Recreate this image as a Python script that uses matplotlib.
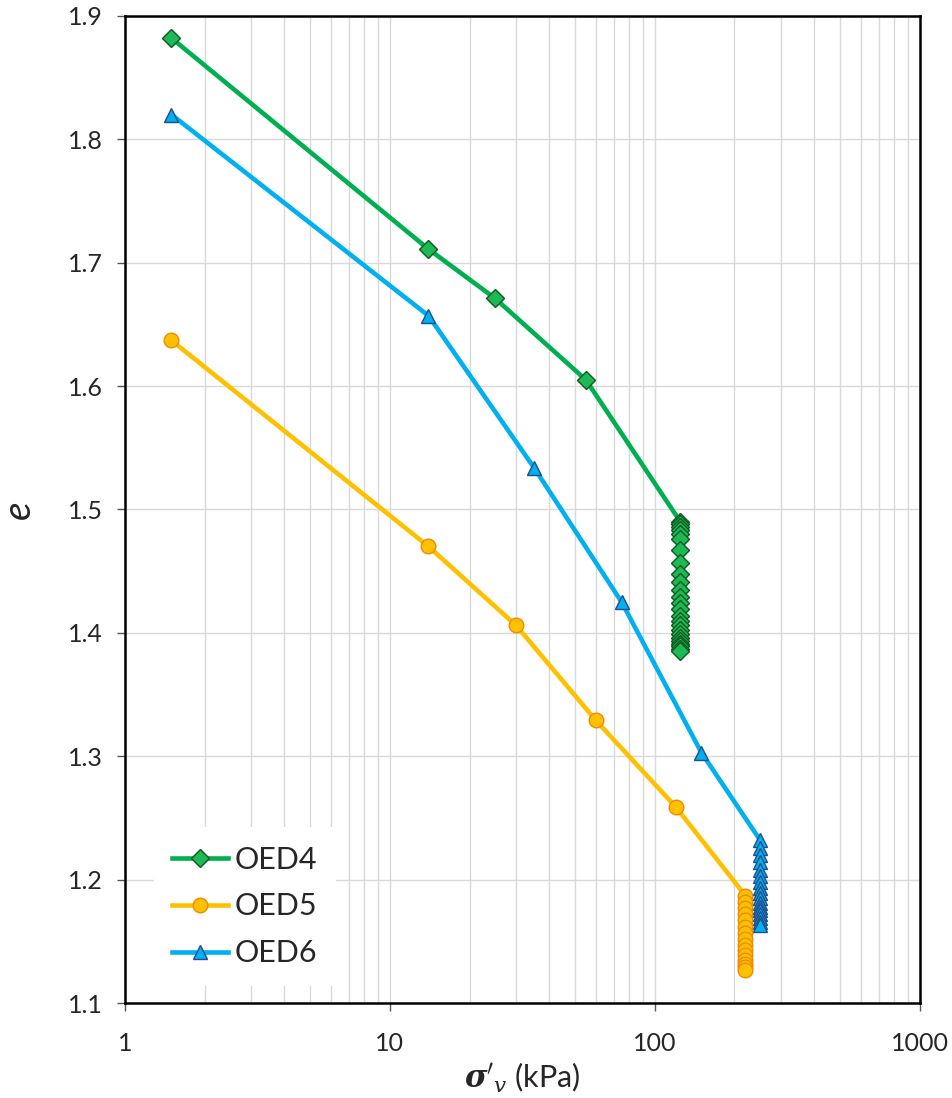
import matplotlib
matplotlib.use("Agg")
import matplotlib.pyplot as plt
from matplotlib.ticker import LogLocator, NullFormatter, FixedLocator

plt.rcParams['font.family'] = ['Lato', 'DejaVu Sans']
plt.rcParams['mathtext.fontset'] = 'dejavuserif'

# effective vertical stress (kPa) and void ratio for each oedometer test
oed4_stress = [1.5, 14, 25, 55] + [125] * 25
oed4_e = [1.882, 1.711, 1.671, 1.605,
          1.490, 1.488, 1.486, 1.483, 1.480, 1.476, 1.467, 1.457, 1.448,
          1.441, 1.435, 1.429, 1.424, 1.419, 1.414, 1.410, 1.406, 1.402,
          1.399, 1.396, 1.393, 1.391, 1.389, 1.387, 1.385]

oed5_stress = [1.5, 14, 30, 60, 120] + [220] * 15
oed5_e = [1.637, 1.470, 1.406, 1.329, 1.259,
          1.187, 1.182, 1.177, 1.172, 1.167, 1.162, 1.157, 1.152,
          1.147, 1.143, 1.139, 1.135, 1.132, 1.129, 1.127]

oed6_stress = [1.5, 14, 35, 75, 150] + [250] * 17
oed6_e = [1.820, 1.657, 1.534, 1.425, 1.303,
          1.232, 1.226, 1.220, 1.214, 1.208, 1.203, 1.198, 1.193, 1.189,
          1.185, 1.181, 1.178, 1.175, 1.172, 1.169, 1.166, 1.163]

y_ticks = [1.1, 1.2, 1.3, 1.4, 1.5, 1.6, 1.7, 1.8, 1.9]
x_ticks = [1, 10, 100, 1000]

text_col = '#262626'

fig = plt.figure(figsize=(9.53, 10.98), dpi=100)
ax = fig.add_axes([0.131, 0.0865, 0.834, 0.899])

ax.plot(oed4_stress, oed4_e, color='#00B050', lw=3.3, marker='D', ms=9,
        mfc='#1DB954', mec='#0B5A1F', mew=1.0, label='OED4', zorder=3)
ax.plot(oed5_stress, oed5_e, color='#FFC000', lw=3.3, marker='o', ms=10.5,
        mfc='#FFC000', mec='#F08A00', mew=1.0, label='OED5', zorder=3)
ax.plot(oed6_stress, oed6_e, color='#00B0F0', lw=3.3, marker='^', ms=10.5,
        mfc='#00B0F0', mec='#1F4E8C', mew=1.0, label='OED6', zorder=4)

ax.set_xscale('log')
ax.set_xlim(1, 1000)
ax.set_ylim(1.1, 1.9)
ax.xaxis.set_major_locator(FixedLocator(x_ticks))
ax.xaxis.set_minor_locator(LogLocator(base=10, subs=range(2, 10)))
ax.xaxis.set_minor_formatter(NullFormatter())
ax.set_xticklabels([str(v) for v in x_ticks])
ax.set_yticks(y_ticks)
ax.set_yticklabels([f"{v:.1f}" for v in y_ticks])

ax.grid(True, which='major', color='#d9d9d9', lw=1.0)
ax.grid(True, which='minor', axis='x', color='#d9d9d9', lw=1.0)
ax.set_axisbelow(True)

for s in ax.spines.values():
    s.set_linewidth(1.8)
    s.set_color('black')

ax.tick_params(axis='both', which='major', direction='out', length=6,
               width=1.0, color='#555555', labelsize=18, pad=10,
               labelcolor=text_col)
ax.tick_params(axis='x', which='minor', length=0)
ax.tick_params(axis='x', which='major', pad=15)

ax.set_xlabel(r"$\boldsymbol{\sigma}'_v$" + " (kPa)", fontsize=22, labelpad=4,
              color=text_col)
ax.set_ylabel("e", fontsize=28, fontstyle='italic', labelpad=22,
              color=text_col)

leg = ax.legend(loc='lower left', bbox_to_anchor=(0.017, 0.002), fontsize=22,
                frameon=True, fancybox=False, edgecolor='none',
                facecolor='white', framealpha=1.0, handlelength=1.85,
                handletextpad=0.2, labelspacing=0.62, borderpad=0.6)
for t in leg.get_texts():
    t.set_color(text_col)

fig.savefig('out.png', dpi=100)
